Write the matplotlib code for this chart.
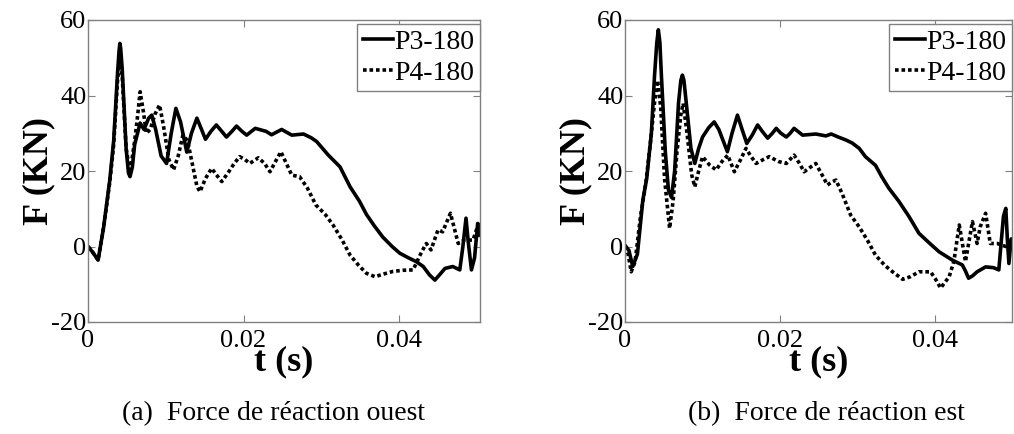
"""forces de réaction ouest / est, essais P3-180 et P4-180"""

import numpy as np
import matplotlib
matplotlib.use('Agg')
import matplotlib.pyplot as plt

# Données lues sur les courbes
# ouest
t_p3_ouest = [0, 0.0006, 0.0013, 0.002, 0.0028, 0.0033, 0.0038, 0.0040, 0.0041, 0.0042, 0.0044, 0.0049, 0.0052, 0.0054, 0.0057, 0.0060,
              0.0067, 0.0072, 0.0078, 0.0082, 0.0087, 0.0094, 0.0101, 0.0107, 0.0113, 0.0119, 0.0127, 0.0133,
              0.0140, 0.0146, 0.0151, 0.0158, 0.0165, 0.0172, 0.0178, 0.0185, 0.0191, 0.0198, 0.0204, 0.0215,
              0.0229, 0.0236, 0.0249, 0.0262, 0.0277, 0.0287, 0.0294, 0.0309, 0.0324, 0.0337, 0.0349, 0.0358,
              0.0368, 0.0379, 0.0391, 0.0401, 0.0412, 0.0422, 0.0431, 0.0439, 0.0446, 0.0452, 0.0459, 0.0469,
              0.0478, 0.0482, 0.0486, 0.0489, 0.0493, 0.0497, 0.0501, 0.0504]
f_p3_ouest = [0, -1.5, -3.6, 5, 17.6, 28, 46, 52, 53.8, 52.5, 47, 26, 19.5, 18.5, 21, 27,
              32.7, 31, 34, 34.8, 31, 24, 22, 30, 36.6, 33, 25, 30,
              34, 31, 28.4, 30.5, 32.2, 30.5, 29, 30.5, 31.9, 30.5, 29.5, 31.3,
              30.5, 29.6, 31, 29.5, 29.8, 28.8, 27.8, 24.2, 21.1, 15.8, 12, 8.5,
              5.5, 2.5, 0, -1.8, -3, -4, -5.3, -7.5, -8.9, -7.5, -5.8, -5.3,
              -6.2, 0, 7.5, 1, -6.2, -3, 6.1, 3]

t_p4_ouest = [0, 0.0006, 0.0013, 0.002, 0.0028, 0.0033, 0.0038, 0.0041, 0.0044, 0.0049, 0.0054, 0.0060,
              0.0064, 0.0067, 0.0071, 0.0075, 0.0080, 0.0086, 0.0092, 0.0097, 0.0104, 0.0110, 0.0116, 0.0122,
              0.0128, 0.0134, 0.0140, 0.0144, 0.0151, 0.0159, 0.0165, 0.0172, 0.0180, 0.0188, 0.0195, 0.0202,
              0.0208, 0.0219, 0.0227, 0.0234, 0.0241, 0.0248, 0.0255, 0.0262, 0.0272, 0.0282, 0.0293, 0.0305,
              0.0315, 0.0326, 0.0337, 0.0348, 0.0358, 0.0369, 0.0380, 0.0392, 0.0405, 0.0418, 0.0429, 0.0435,
              0.0441, 0.0450, 0.0456, 0.0466, 0.0476, 0.0484, 0.0495, 0.0503]
f_p4_ouest = [0, -1.5, -3.6, 5, 17, 27, 44, 50, 45, 26, 19.5, 28,
              35, 41, 36, 30, 31, 35, 37.5, 32, 23, 20.3, 24, 29.5,
              28, 22, 16, 14.5, 18, 20.7, 19, 17.2, 19.5, 22, 23.8, 23,
              22, 23.5, 22, 19.8, 22.5, 25.1, 22, 18.9, 18.5, 15.5, 11, 8.5,
              5.7, 2, -2.3, -5, -7.1, -8, -7.3, -6.6, -6.3, -6.2, -1.4, 0.8,
              -0.9, 4.4, 3.9, 8.8, 0.8, 1.7, 1.7, 6.6]

# est
t_p3_est = [0, 0.0005, 0.001, 0.0016, 0.0023, 0.0028, 0.0034, 0.0038, 0.0041, 0.0043, 0.0045, 0.0047, 0.0052, 0.0056,
            0.0060, 0.0064, 0.0069, 0.0072, 0.0074, 0.0076, 0.0079, 0.0085, 0.0090, 0.0095, 0.0100, 0.0108, 0.0115, 0.0121,
            0.0132, 0.0138, 0.0145, 0.0151, 0.0157, 0.0164, 0.0171, 0.0177, 0.0184, 0.0190, 0.0195, 0.0201,
            0.0208, 0.0213, 0.0218, 0.0229, 0.0246, 0.0259, 0.0266, 0.0275, 0.0285, 0.0293, 0.0302, 0.0310,
            0.0323, 0.0331, 0.0340, 0.0353, 0.0366, 0.0379, 0.0392, 0.0405, 0.0422, 0.0435, 0.0439, 0.0443,
            0.0448, 0.0454, 0.0465, 0.0475, 0.0482, 0.0485, 0.0488, 0.0491, 0.0493, 0.0495, 0.0498, 0.0500]
f_p3_est = [0.3, -1, -5.3, -2, 12.3, 18, 30, 45, 54, 57.4, 54, 45, 25, 15,
            13, 20, 38, 44, 45.4, 44, 38, 26, 22, 26, 29, 31.5, 33, 31,
            25.1, 30, 34.8, 31, 27.3, 29.5, 32.2, 30.5, 28.7, 30, 31.3, 30,
            29, 30, 31.3, 29.5, 29.8, 29.3, 29.8, 29, 28.2, 27.4, 26, 23.8,
            21.5, 18.5, 15.5, 12, 8, 3.5, 1, -1.4, -3.6, -4.9, -6.5, -8.4,
            -7.8, -6.7, -5.4, -5.6, -6.2, 1, 8, 10.1, 2, -4.5, 2, 2]

t_p4_est = [0, 0.0004, 0.0008, 0.0013, 0.0020, 0.0027, 0.0033, 0.0038, 0.0042, 0.0046, 0.0051, 0.00575,
            0.0062, 0.0067, 0.0072, 0.0075, 0.0080, 0.0086, 0.0090, 0.0095, 0.0100, 0.0109, 0.01175, 0.0125,
            0.01325, 0.0141, 0.0149, 0.0156, 0.0162, 0.0169, 0.0178, 0.0186, 0.0198, 0.0208, 0.0218, 0.0225,
            0.0231, 0.0239, 0.0246, 0.0254, 0.0261, 0.0266, 0.0272, 0.0280, 0.0291, 0.0302, 0.0313, 0.0323,
            0.0335, 0.0345, 0.0358, 0.0368, 0.0379, 0.0394, 0.0400, 0.0407, 0.0418, 0.0424, 0.0431, 0.0439,
            0.0448, 0.0454, 0.0458, 0.0465, 0.0471, 0.0480, 0.0491, 0.0500]
f_p4_est = [0, -2, -6.7, -4, 8, 17, 28, 38, 44, 37, 18, 4.8,
            12, 25, 35, 37.9, 30, 19, 15.8, 20, 23.8, 21.6, 20.3, 22.5,
            24.2, 19.8, 23, 26, 24, 22, 23, 23.8, 22.5, 22, 24.2, 22,
            19.8, 21, 22, 19, 16.3, 17, 17.6, 14, 8.3, 5.2, 1.5, -2.3,
            -5, -6.7, -8.7, -8, -6.7, -6.7, -8.5, -11, -8, -4, 5.7, -4,
            6.6, 0.8, 5.2, 8.8, 0.8, 0.8, 0, 1]

x_ticks = [0, 0.02, 0.04]
x_tick_labels = ['0', '0.02', '0.04']
y_ticks = [-20, 0, 20, 40, 60]
legend_labels = ['P3-180', 'P4-180']
captions = ['(a)  Force de réaction ouest', '(b)  Force de réaction est']

plt.rcParams['font.family'] = ['Liberation Serif', 'DejaVu Serif']
plt.rcParams['axes.unicode_minus'] = False
gris = '#808080'

fig = plt.figure(figsize=(10.14, 4.34), dpi=100)
ax1 = fig.add_axes([88 / 1014, 112 / 434, 392 / 1014, 302 / 434])
ax2 = fig.add_axes([625 / 1014, 112 / 434, 387 / 1014, 302 / 434])

series = [(ax1, t_p3_ouest, f_p3_ouest, t_p4_ouest, f_p4_ouest, 0.0504),
          (ax2, t_p3_est, f_p3_est, t_p4_est, f_p4_est, 0.0499)]

for ax, t3, f3, t4, f4, xmax in series:
    ax.plot(t3, f3, color='black', lw=2.6, solid_joinstyle='round', label=legend_labels[0])
    ax.plot(t4, f4, color='black', lw=2.6, linestyle=(0, (1.0, 0.8)), label=legend_labels[1])
    ax.set_xlim(0, xmax)
    ax.set_ylim(-20, 60)
    ax.set_xticks(x_ticks)
    ax.set_xticklabels(x_tick_labels)
    ax.set_yticks(y_ticks)
    ax.tick_params(direction='in', length=5, color=gris, labelsize=19, top=True, right=True)
    ax.tick_params(axis='y', pad=1)
    ax.tick_params(axis='x', pad=6)
    for sp in ax.spines.values():
        sp.set_color(gris)
        sp.set_linewidth(1.0)
    ax.set_xlabel('t (s)', fontsize=26, fontweight='bold', labelpad=-5)
    ax.set_ylabel('F (KN)', fontsize=26, fontweight='bold', labelpad=-3)
    leg = ax.legend(loc='upper right', bbox_to_anchor=(1.0, 0.987), borderaxespad=0, fontsize=20,
                    fancybox=False, edgecolor=gris, framealpha=1, handlelength=1.1,
                    handletextpad=0.05, borderpad=0.2, labelspacing=0.2)
    leg.get_frame().set_linewidth(1.0)

fig.text(274 / 1014, 1 - 414 / 434, captions[0], fontsize=20, ha='center', va='center')
fig.text(826 / 1014, 1 - 414 / 434, captions[1], fontsize=20, ha='center', va='center')

fig.savefig('out.png', dpi=100)
